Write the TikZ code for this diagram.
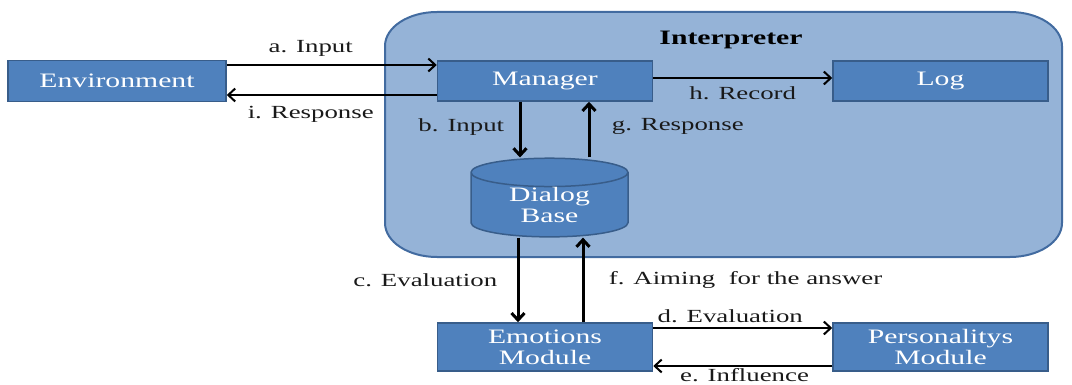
\documentclass[tikz,border=0pt]{standalone}
\usepackage{fontspec}
\setmainfont{Liberation Serif}[FakeStretch=1.45]
\usetikzlibrary{shapes.geometric,arrows.meta}

\definecolor{boxfill}{RGB}{79,129,189}
\definecolor{boxline}{RGB}{56,93,138}
\definecolor{panelfill}{RGB}{149,179,215}
\definecolor{panelline}{RGB}{66,107,160}
\newcommand{\boxfont}{\fontsize{20.5}{21}\selectfont}
\newcommand{\lblfont}{\fontsize{18.5}{20}\selectfont}

\begin{document}
\begin{tikzpicture}[x=1pt, y=-1pt]
\useasboundingbox (0,0) rectangle (1072,385);

% interpreter panel
\draw[fill=panelfill, draw=panelline, line width=2pt]
  (385,223) -- (385,46) arc[start angle=180, end angle=270, x radius=52, y radius=34]
  -- (1010,12) arc[start angle=270, end angle=360, x radius=52, y radius=34]
  -- (1062,223) arc[start angle=0, end angle=90, x radius=52, y radius=34]
  -- (437,257) arc[start angle=90, end angle=180, x radius=52, y radius=34] -- cycle;

\tikzset{every node/.style={draw=boxline, fill=boxfill, line width=1.5pt, text=white, font=\boxfont, align=center, inner sep=0pt, minimum width=215, minimum height=40}}
\node (env) at (117,81) [minimum width=218, minimum height=41] {Environment};
\node (man) at (545,81) {Manager};
\node (log) at (940.5,81) {Log};
\node (emo) at (545,347) [minimum height=48] {Emotions\\Module};
\node (per) at (940.5,347) [minimum height=48] {Personalitys\\Module};
\node (dlg) at (549.5,205) [shape=cylinder, shape border rotate=90, aspect=0.35, minimum width=157, minimum height=66] {Dialog\\Base};
\tikzset{every node/.style={font=\boxfont\bfseries}}
\node (ttl) at (731,40) {Interpreter};

\tikzset{every node/.style={font=\lblfont, text=black!90}}
\tikzset{flow/.style={-{Straight Barb[length=7pt,width=13pt]}, line width=2pt}}
\path ([yshift=16pt]env.east) edge [flow] node[above=4pt, pos=0.4] {a. Input} ([yshift=16pt]man.west);
\path ([yshift=-14pt]man.west) edge [flow] node[below=7pt, pos=0.6] {i. Response} ([yshift=-14pt]env.east);
\path ([yshift=3pt]man.east) edge [flow] node[below=4pt] {h. Record} ([yshift=3pt]log.west);
\path ([yshift=19pt]emo.east) edge [flow] node[above=1pt, pos=0.43] {d. Evaluation} ([yshift=19pt]per.west);
\path ([yshift=-19pt]per.west) edge [flow] node[below=-1.5pt, pos=0.49] {e. Influence} ([yshift=-19pt]emo.east);

\coordinate (b0) at ([xshift=-25pt]man.south);
\coordinate (g0) at ([xshift=44pt]man.south);
\coordinate (c0) at ([xshift=-27pt]emo.north);
\coordinate (f0) at ([xshift=38pt]emo.north);
\tikzset{flow/.style={-{Straight Barb[length=7pt,width=13pt]}, line width=3pt}}
\path (b0) edge [flow] node[left=11pt, pos=0.45] {b. Input} (b0 |- dlg.north);
\path (g0 |- dlg.north) edge [flow] node[right=18pt, pos=0.55] {g. Response} (g0);
\path (c0 |- dlg.south) edge [flow] node[left=16pt] {c. Evaluation} (c0);
\path (f0) edge [flow] node[right=21pt] {f. Aiming~ for the answer} (f0 |- dlg.south);
\end{tikzpicture}
\end{document}
